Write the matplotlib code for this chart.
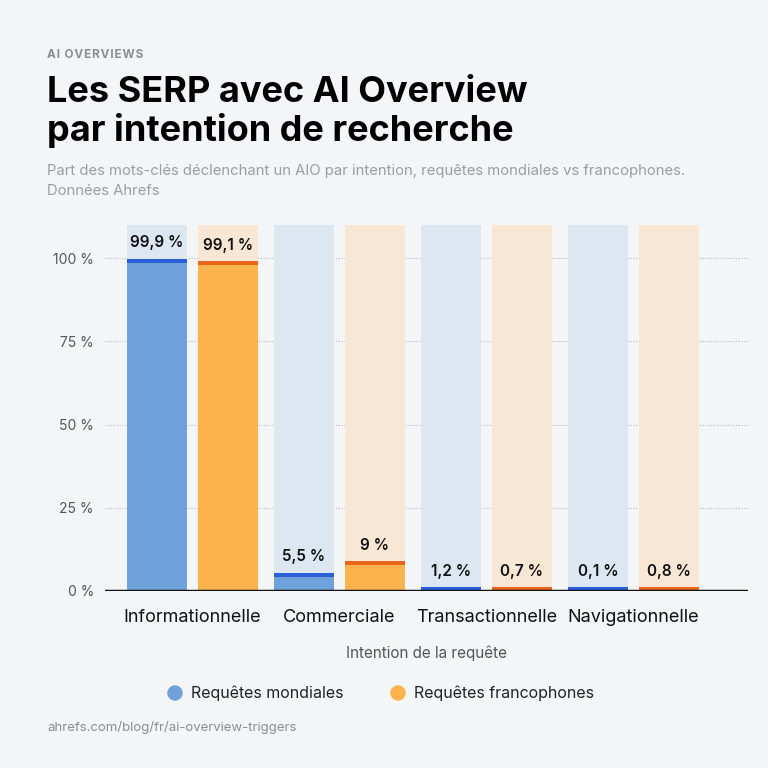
import matplotlib.pyplot as plt
import numpy as np

plt.rcParams['font.family'] = ['Inter', 'DejaVu Sans']

# data
categories = ['Informationnelle', 'Commerciale', 'Transactionnelle', 'Navigationnelle']
mondiales = [99.9, 5.5, 1.2, 0.1]
francophones = [99.1, 9, 0.7, 0.8]
series_names = ['Requêtes mondiales', 'Requêtes francophones']
yticks = [0, 25, 50, 75, 100]

bg = '#f4f5f7'
blue, blue_dark, blue_light = '#6fa1da', '#2b5fd8', '#dce7f1'
orange, orange_dark, orange_light = '#fdb34b', '#e8661c', '#f8e7d4'

fig = plt.figure(figsize=(7.68, 7.68), dpi=100, facecolor=bg)
ax = fig.add_axes([0.1367, 0.2305, 0.8373, 0.4766])
ax.set_facecolor(bg)

x = np.arange(len(categories))
w = 0.41
off = 0.242
cap = 1.2


def fmt(v):
    s = ('%g' % v).replace('.', ',')
    return s + ' %'


for vals, dx, c, cd, cl in [(mondiales, -off, blue, blue_dark, blue_light),
                            (francophones, off, orange, orange_dark, orange_light)]:
    pos = x + dx
    ax.bar(pos, [110] * len(vals), width=w, color=cl, zorder=1)
    ax.bar(pos, vals, width=w, color=c, zorder=2)
    bottoms = [max(v - cap, 0) for v in vals]
    heights = [max(v, cap) - b for v, b in zip(vals, bottoms)]
    ax.bar(pos, heights, bottom=bottoms, width=w, color=cd, zorder=3)
    for p, v in zip(pos, vals):
        ax.annotate(fmt(v), (p, max(v, cap)), xytext=(0, 6),
                    textcoords='offset points', ha='center', va='bottom',
                    fontsize=11, fontweight='semibold', color='#111111', zorder=5)

for t in yticks[1:]:
    ax.axhline(t, color='#b8bcc2', lw=0.8, ls=(0, (1, 1.5)), zorder=0.5)
ax.axhline(0, color='#111111', lw=2.5, zorder=4)

ax.set_xlim(-0.595, 3.78)
ax.set_ylim(0, 110)
ax.set_yticks(yticks)
ax.set_yticklabels([f'{t} %' for t in yticks], fontsize=10, color='#555555')
ax.set_xticks(x)
ax.set_xticklabels(categories, fontsize=13, color='#111111')
ax.tick_params(length=0)
ax.tick_params(axis='x', pad=13)
ax.tick_params(axis='y', pad=8)
for s in ax.spines.values():
    s.set_visible(False)

ax.set_xlabel('Intention de la requête', fontsize=11, color='#555555', labelpad=14)

# header
fig.text(47 / 768, 1 - 55 / 768, '\u200a'.join('AI OVERVIEWS'), fontsize=8.5,
         fontweight='bold', color='#8a8d93', va='center')
fig.text(47 / 768, 1 - 92 / 768, 'Les SERP avec AI Overview', fontsize=26,
         fontweight='bold', color='#000000', va='center')
fig.text(47 / 768, 1 - 130 / 768, 'par intention de recherche', fontsize=26,
         fontweight='bold', color='#000000', va='center')
fig.text(47 / 768, 1 - 171 / 768,
         'Part des mots-clés déclenchant un AIO par intention, requêtes mondiales vs francophones.',
         fontsize=10.7, color='#9a9da3', va='center')
fig.text(47 / 768, 1 - 191 / 768, 'Données Ahrefs', fontsize=10.7, color='#9a9da3', va='center')

# legend
fig.text(47 / 768, 1 - 728 / 768, 'ahrefs.com/blog/fr/ai-overview-triggers', fontsize=9.5,
         color='#8a8d93', va='center')
lx = [175, 398]
for px, name, c in zip(lx, series_names, [blue, orange]):
    fig.patches.append(plt.Circle((px / 768, 1 - 693 / 768), 7 / 768, color=c,
                                  transform=fig.transFigure, figure=fig))
    fig.text((px + 16) / 768, 1 - 693 / 768, name, fontsize=11.5, color='#222222', va='center')

fig.savefig('out.png', dpi=100, facecolor=bg)
